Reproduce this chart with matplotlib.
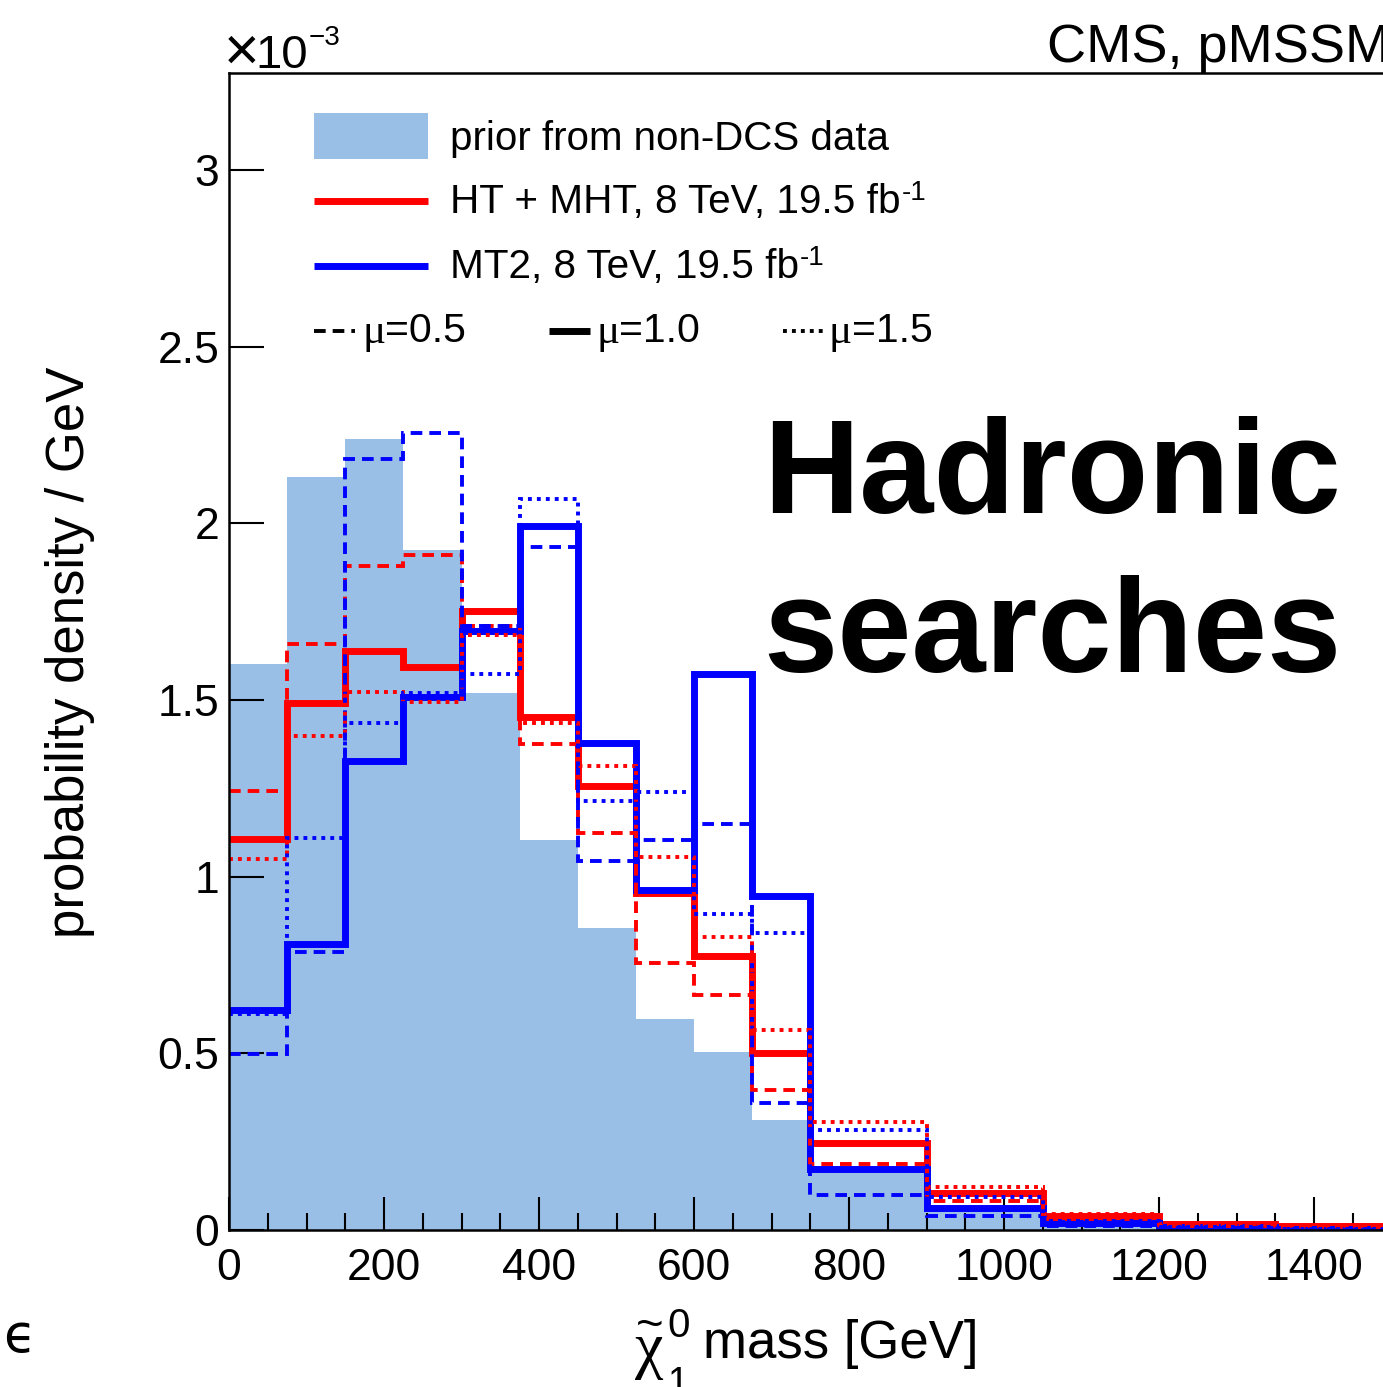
import matplotlib
matplotlib.use('Agg')
import matplotlib.pyplot as plt
from matplotlib.lines import Line2D
from matplotlib.patches import Rectangle
import numpy as np

W, H = 1383, 1387

# ---------------- data (probability density / GeV, in units of 1e-3) ----------------
edges = [0, 75, 150, 225, 300, 375, 450, 525, 600, 675, 750, 900, 1050, 1200, 1350, 1500]

prior = [1.602, 2.131, 2.239, 1.925, 1.520, 1.104, 0.855, 0.597, 0.504, 0.311,
         0.161, 0.055, 0.015, 0.005, 0.002]

red_mu10 = [1.107, 1.492, 1.639, 1.594, 1.752, 1.452, 1.257, 0.955, 0.776, 0.501,
            0.246, 0.105, 0.040, 0.016, 0.012]
red_mu05 = [1.243, 1.659, 1.879, 1.911, 1.710, 1.376, 1.124, 0.756, 0.665, 0.396,
            0.187, 0.082, 0.030, 0.012, 0.008]
red_mu15 = [1.050, 1.398, 1.523, 1.495, 1.684, 1.435, 1.313, 1.056, 0.829, 0.566,
            0.306, 0.122, 0.045, 0.018, 0.012]

blue_mu10 = [0.623, 0.810, 1.328, 1.509, 1.696, 1.993, 1.378, 0.962, 1.574, 0.945,
             0.173, 0.062, 0.020, 0.008, 0.004]
blue_mu05 = [0.498, 0.787, 2.182, 2.256, 1.710, 1.933, 1.044, 1.104, 1.149, 0.359,
             0.099, 0.040, 0.012, 0.005, 0.003]
blue_mu15 = [0.611, 1.110, 1.435, 1.520, 1.574, 2.069, 1.214, 1.240, 0.894, 0.841,
             0.283, 0.093, 0.025, 0.008, 0.004]

xticks = [0, 200, 400, 600, 800, 1000, 1200, 1400]
yticks = [0, 0.5, 1, 1.5, 2, 2.5, 3]
ytick_labels = ['0', '0.5', '1', '1.5', '2', '2.5', '3']

legend_labels = ['prior from non-DCS data', 'HT + MHT, 8 TeV, 19.5 fb', 'MT2, 8 TeV, 19.5 fb']
mu_labels = ['=0.5', '=1.0', '=1.5']

# ---------------- style ----------------
plt.rcParams['font.family'] = ['Liberation Sans', 'DejaVu Sans']
FILL = '#99bfe6'
RED = '#ff0000'
BLUE = '#0000ff'
LW_SOLID = 5.0
LW_THIN = 2.8
DASH = (0, (3.0, 1.8))
DOT = (0, (1.0, 1.3))

fig = plt.figure(figsize=(W / 100, H / 100), dpi=100)
ax = fig.add_axes([229 / W, 1 - 1230 / H, 1162.5 / W, (1230 - 73) / H])

ax.stairs(prior, edges, fill=True, color=FILL, baseline=0, linewidth=0, zorder=1)
ax.stairs(red_mu10, edges, baseline=None, color=RED, linewidth=LW_SOLID, zorder=2)
ax.stairs(blue_mu10, edges, baseline=None, color=BLUE, linewidth=LW_SOLID, zorder=3)
ax.stairs(red_mu05, edges, baseline=None, color=RED, linewidth=LW_THIN, linestyle=DASH, zorder=4)
ax.stairs(blue_mu05, edges, baseline=None, color=BLUE, linewidth=LW_THIN, linestyle=DASH, zorder=5)
ax.stairs(red_mu15, edges, baseline=None, color=RED, linewidth=LW_THIN, linestyle=DOT, zorder=6)
ax.stairs(blue_mu15, edges, baseline=None, color=BLUE, linewidth=LW_THIN, linestyle=DOT, zorder=7)

ax.set_xlim(0, 1500)
ax.set_ylim(0, 3.275)
ax.set_xticks(xticks)
ax.set_xticklabels([str(v) for v in xticks])
ax.set_xticks(np.arange(0, 1501, 50), minor=True)
ax.set_yticks(yticks)
ax.set_yticklabels(ytick_labels)
ax.tick_params(axis='x', which='major', direction='in', length=24, width=1.5,
               labelsize=32, pad=13, top=False)
ax.tick_params(axis='x', which='minor', direction='in', length=12, width=1.5, top=False)
ax.tick_params(axis='y', which='major', direction='in', length=25, width=1.5,
               labelsize=32, pad=7, right=False)
for s in ax.spines.values():
    s.set_linewidth(1.8)
    s.set_zorder(10)

# ---------------- overlay in pixel coordinates ----------------
ov = fig.add_axes([0, 0, 1, 1], zorder=20)
ov.set_xlim(0, W)
ov.set_ylim(H, 0)
ov.axis('off')
r = fig.canvas.get_renderer()

def after(t, gap=1):
    bb = t.get_window_extent(r)
    return bb.x1 + gap

# x10^-3
tx = ov.text(224, 70, '×', fontsize=44, va='baseline', ha='left')
t = ov.text(after(tx, -4), 68, '10', fontsize=34, va='baseline', ha='left')
ov.text(after(t, 0), 45, '−3', fontsize=20, va='baseline', ha='left')

# CMS, pMSSM (cut off at right edge)
ov.text(1047, 62, 'CMS, pMSSM', fontsize=39, va='baseline', ha='left')

# Hadronic searches
ov.text(763, 512, 'Hadronic', fontsize=96, fontweight='bold', va='baseline', ha='left')
ov.text(763, 672, 'searches', fontsize=96, fontweight='bold', va='baseline', ha='left')

# y label
ov.text(70, 652, 'probability density / GeV', fontsize=38, rotation=90,
        ha='center', va='center')

# x label: chi~_1^0 mass [GeV]
ov.text(635, 1366, 'χ', fontsize=46, family=['Liberation Serif', 'DejaVu Serif'],
        va='baseline', ha='left')
ov.text(650, 1327, '~', fontsize=34, va='center', ha='center')
ov.text(667, 1337, '0', fontsize=29, va='baseline', ha='left')
ov.text(667, 1394, '1', fontsize=27, va='baseline', ha='left')
ov.text(703, 1358, 'mass [GeV]', fontsize=38, va='baseline', ha='left')

# partial glyph at bottom-left
ov.text(3, 1352, 'ϵ', fontsize=38, family=['DejaVu Sans'], va='baseline', ha='left')

# legend
ov.add_patch(Rectangle((314, 113), 114, 46, facecolor=FILL, edgecolor='none'))
ov.text(450, 150, legend_labels[0], fontsize=29, va='baseline', ha='left')

ov.add_line(Line2D([314, 428], [201, 201], color=RED, linewidth=LW_SOLID, solid_capstyle='butt'))
t = ov.text(450, 213, legend_labels[1], fontsize=29.2, va='baseline', ha='left')
ov.text(after(t, 1), 200, '-1', fontsize=20, va='baseline', ha='left')

ov.add_line(Line2D([314, 428], [266, 266], color=BLUE, linewidth=LW_SOLID, solid_capstyle='butt'))
t = ov.text(450, 278, legend_labels[2], fontsize=29.2, va='baseline', ha='left')
ov.text(after(t, 1), 265, '-1', fontsize=20, va='baseline', ha='left')

mu_rows = [(314, 355, DASH, LW_THIN, 362), (549, 590, '-', LW_SOLID, 596), (783, 825, DOT, LW_THIN, 829)]
for (x0, x1, ls, lw, xt), lab in zip(mu_rows, mu_labels):
    ov.add_line(Line2D([x0, x1], [331, 331], color='black', linewidth=lw, linestyle=ls,
                       solid_capstyle='butt', dash_capstyle='butt'))
    tm = ov.text(xt, 343, 'μ', fontsize=31, family=['Liberation Serif', 'DejaVu Serif'],
                 va='baseline', ha='left')
    ov.text(after(tm, 0), 342, lab, fontsize=29.5, va='baseline', ha='left')

fig.savefig('out.png', dpi=100)
